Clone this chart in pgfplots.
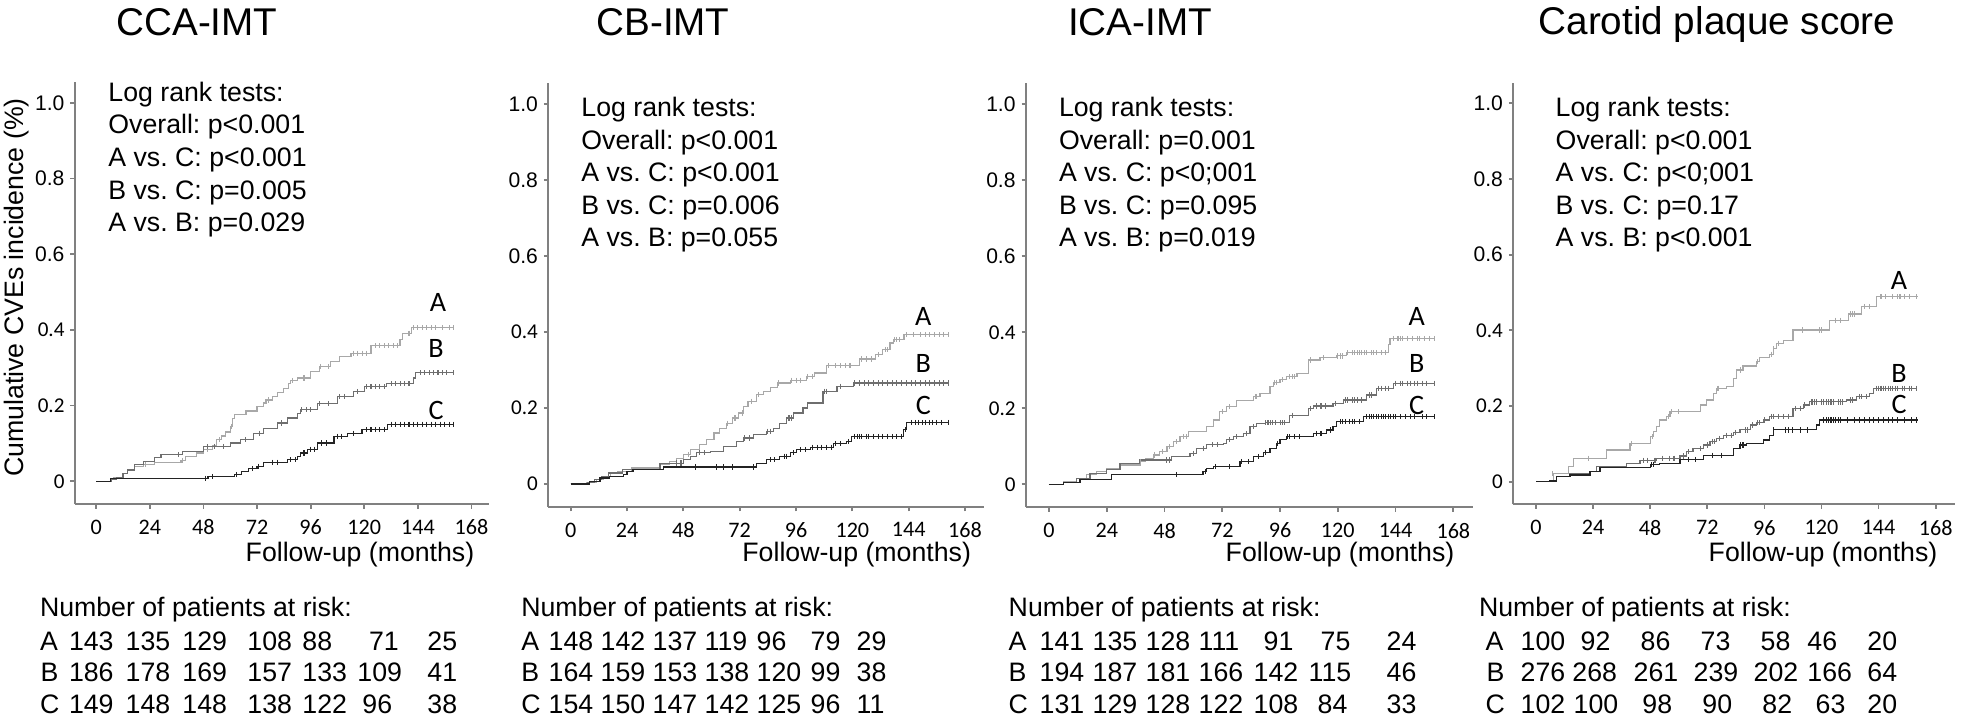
\documentclass[border=0pt]{standalone}
\usepackage{fontspec}
\setmainfont{Liberation Sans}
\newfontfamily\carlito{Carlito}
\usepackage{pgfplots}
\pgfplotsset{compat=1.18}

\definecolor{axgray}{RGB}{128,128,128}
\definecolor{colA}{RGB}{168,168,168}
\definecolor{colB}{RGB}{110,110,110}
\definecolor{colC}{RGB}{35,35,35}

\newcommand{\ttl}{\fontsize{11}{13}\selectfont}
\newcommand{\txt}{\fontsize{7.6}{9}\selectfont}

\pgfplotsset{
  km/.style={
    scale only axis, clip=false,
    axis x line=bottom, axis y line=left,
    axis line style={-, draw=axgray, line width=0.6pt},
    xmin=-9.5, xmax=176, ymin=-0.06, ymax=1.055,
    xtick={0,24,48,72,96,120,144,168},
    xticklabels={0,24,48,72,96,120,144,168},
    ytick={0,0.2,0.4,0.6,0.8,1},
    yticklabels={{\carlito 0},{\carlito 0.2},{\carlito 0.4},0.6,0.8,1.0},
    tick align=outside, major tick length=1.3pt,
    tick style={draw=axgray, line width=0.5pt},
    xticklabel style={font=\carlito\fontsize{6.3}{7}\selectfont, inner sep=0pt},
    yticklabel style={font=\fontsize{6}{7}\selectfont, inner sep=0pt},
    xticklabel shift=3pt, yticklabel shift=1.5pt,
  },
  stepA/.style={const plot, no marks, draw=colA, line width=0.35pt},
  stepB/.style={const plot, no marks, draw=colB, line width=0.35pt},
  stepC/.style={const plot, no marks, draw=colC, line width=0.35pt},
  cens/.style={only marks, mark=|, mark size=0.75pt, mark options={line width=0.3pt}},
  censA/.style={cens, colA},
  censB/.style={cens, colB},
  censC/.style={cens, colC},
}

\begin{document}
\frenchspacing
\begin{tikzpicture}

% ---------------- CCA-IMT
\begin{axis}[km, at={(7.5mm,-50.4mm)}, anchor=south west, width=41.44mm, height=42.2mm]
\addplot[stepA] coordinates {(0,0) (6.5,0.005) (8,0.01) (12,0.02) (14,0.03) (17,0.04) (21,0.045) (26,0.05) (38,0.055) (40,0.065) (45,0.075) (48,0.085) (52,0.095) (54,0.11) (56,0.12) (58,0.13) (60,0.145) (61,0.165) (62,0.176) (67,0.186) (72,0.197) (75,0.207) (76,0.215) (79,0.225) (81,0.235) (84,0.246) (86,0.258) (87,0.266) (90,0.273) (96,0.29) (100,0.303) (105,0.316) (109,0.33) (114,0.338) (123,0.358) (136,0.375) (137,0.391) (141,0.406) (160,0.406)};
\addplot[censA] coordinates {(22,0.045) (38.5,0.055) (50,0.085) (55,0.11) (60.5,0.145) (77,0.215) (88,0.266) (93,0.273) (100.5,0.303) (104,0.303) (115,0.338) (117,0.338) (119,0.338) (121,0.338) (125,0.358) (127,0.358) (129,0.358) (131,0.358) (133,0.358) (135,0.358) (140,0.391) (142,0.406) (144,0.406) (146,0.406) (148,0.406) (150,0.406) (152,0.406) (155,0.406) (158,0.406) (160,0.406)};
\addplot[stepB] coordinates {(0,0) (7,0.005) (9,0.01) (12,0.02) (14,0.03) (17,0.044) (21,0.053) (26,0.062) (29,0.07) (38.5,0.079) (48,0.092) (60,0.101) (64.5,0.11) (70.5,0.127) (75,0.14) (81,0.154) (85.5,0.167) (90,0.18) (91.5,0.189) (99,0.205) (108,0.224) (115,0.237) (120,0.25) (130,0.258) (142,0.273) (143,0.287) (160,0.287)};
\addplot[censB] coordinates {(37,0.07) (50,0.092) (53,0.092) (57,0.092) (67,0.11) (73,0.127) (83,0.154) (92,0.189) (94,0.189) (96,0.189) (100,0.205) (104,0.205) (109,0.224) (111,0.224) (117,0.237) (121,0.25) (123,0.25) (125,0.25) (127,0.25) (129,0.25) (132,0.258) (134,0.258) (136,0.258) (138,0.258) (140,0.258) (145,0.287) (147,0.287) (149,0.287) (151,0.287) (153,0.287) (155,0.287) (157,0.287) (160,0.287)};
\addplot[stepC] coordinates {(0,0) (6.5,0.008) (50,0.013) (62,0.018) (65,0.026) (68,0.033) (72,0.04) (75,0.05) (85.5,0.057) (90,0.066) (91.5,0.075) (94.5,0.085) (99,0.101) (106.4,0.119) (112.4,0.127) (119,0.136) (130.3,0.151) (160,0.151)};
\addplot[censC] coordinates {(49,0.008) (52,0.013) (63,0.018) (70,0.033) (72.5,0.04) (79,0.05) (81,0.05) (87,0.057) (89,0.057) (93,0.075) (96,0.085) (97.5,0.085) (101,0.101) (103,0.101) (108,0.119) (110,0.119) (115,0.127) (121,0.136) (123,0.136) (125,0.136) (127,0.136) (129,0.136) (132,0.151) (134,0.151) (136,0.151) (138,0.151) (140,0.151) (142,0.151) (144,0.151) (146,0.151) (148,0.151) (150,0.151) (152,0.151) (154,0.151) (156,0.151) (158,0.151) (160,0.151)};
\end{axis}

% ---------------- CB-IMT
\begin{axis}[km, at={(54.84mm,-50.68mm)}, anchor=south west, width=43.54mm, height=42.37mm]
\addplot[stepA] coordinates {(0,0) (6.8,0.004) (11,0.011) (14,0.02) (16.8,0.029) (20,0.033) (26,0.042) (38,0.051) (42,0.06) (45,0.068) (48,0.077) (51,0.09) (55,0.104) (58,0.117) (61,0.134) (63.5,0.147) (66.5,0.16) (69,0.174) (71.5,0.187) (73.5,0.204) (75.5,0.218) (79,0.235) (82,0.244) (85,0.253) (88,0.266) (93.5,0.273) (100.5,0.283) (104,0.292) (109,0.311) (123,0.329) (130,0.34) (133,0.354) (136,0.371) (137.5,0.38) (142,0.393) (161,0.393)};
\addplot[censA] coordinates {(50,0.077) (67,0.16) (70,0.174) (73,0.187) (77,0.218) (80,0.235) (88.5,0.266) (94,0.273) (96,0.273) (98,0.273) (101,0.283) (103,0.283) (110,0.311) (113,0.311) (115,0.311) (117,0.311) (119,0.311) (124,0.329) (126,0.329) (128,0.329) (131,0.34) (134,0.354) (135,0.354) (138,0.38) (139,0.38) (140,0.38) (143,0.393) (146,0.393) (149,0.393) (151,0.393) (153,0.393) (155,0.393) (157,0.393) (159,0.393) (161,0.393)};
\addplot[stepB] coordinates {(0,0) (7,0.005) (10,0.012) (13,0.02) (16,0.029) (22,0.038) (38,0.055) (48,0.064) (51,0.073) (53.5,0.082) (59.5,0.086) (65,0.099) (70.5,0.112) (73.5,0.121) (78,0.13) (83.5,0.139) (86.5,0.147) (89,0.16) (92,0.174) (95,0.187) (99,0.2) (101,0.213) (107.5,0.244) (113.5,0.257) (120.5,0.266) (161,0.266)};
\addplot[censB] coordinates {(45,0.055) (47,0.055) (55,0.082) (57,0.082) (74,0.121) (76,0.121) (84,0.139) (85,0.139) (93,0.174) (94,0.174) (108,0.244) (109,0.244) (115,0.257) (121,0.266) (123,0.266) (125,0.266) (127,0.266) (129,0.266) (131,0.266) (133,0.266) (135,0.266) (137,0.266) (139,0.266) (141,0.266) (143,0.266) (145,0.266) (147,0.266) (149,0.266) (151,0.266) (153,0.266) (155,0.266) (157,0.266) (159,0.266) (161,0.266)};
\addplot[stepC] coordinates {(0,0) (8,0.007) (12.5,0.016) (16.5,0.02) (22.5,0.026) (24,0.033) (26.5,0.038) (39.5,0.045) (79.3,0.055) (83.5,0.064) (89,0.073) (93.5,0.082) (96.3,0.09) (102,0.097) (112,0.106) (117.6,0.112) (119.7,0.125) (141.8,0.143) (143,0.162) (161,0.162)};
\addplot[censC] coordinates {(53,0.045) (62,0.045) (65,0.045) (69,0.045) (78,0.045) (85,0.064) (87,0.064) (91,0.073) (92,0.073) (95,0.082) (98,0.09) (100,0.09) (103,0.097) (105,0.097) (107,0.097) (109,0.097) (111,0.097) (113,0.106) (115,0.106) (118.5,0.112) (121,0.125) (122,0.125) (123,0.125) (124,0.125) (126,0.125) (127,0.125) (129,0.125) (131,0.125) (133,0.125) (135,0.125) (137,0.125) (139,0.125) (141,0.125) (142.5,0.143) (145,0.162) (147,0.162) (148,0.162) (150,0.162) (151,0.162) (153,0.162) (154,0.162) (156,0.162) (158,0.162) (161,0.162)};
\end{axis}

% ---------------- ICA-IMT
\begin{axis}[km, at={(102.61mm,-50.71mm)}, anchor=south west, width=44.65mm, height=42.37mm]
\addplot[stepA] coordinates {(0,0) (6,0.007) (11.5,0.016) (15.7,0.025) (19.8,0.033) (24,0.042) (29.5,0.051) (37.8,0.06) (40,0.068) (43.4,0.077) (46,0.086) (49,0.099) (51.7,0.112) (54.4,0.125) (58,0.139) (65.5,0.152) (68.3,0.169) (71,0.191) (73.8,0.204) (78,0.22) (85,0.231) (87.7,0.239) (91.8,0.257) (93.2,0.268) (96,0.275) (98.8,0.283) (103,0.292) (107.8,0.327) (112.6,0.334) (119.5,0.338) (123.7,0.346) (141,0.367) (141.7,0.384) (160.4,0.384)};
\addplot[censA] coordinates {(38,0.06) (44,0.077) (47,0.086) (50,0.099) (53,0.112) (56,0.125) (57,0.125) (72,0.191) (75,0.204) (86,0.231) (93.5,0.268) (94.5,0.268) (97,0.275) (100,0.283) (101,0.283) (102,0.283) (108.5,0.327) (114,0.334) (120,0.338) (121,0.338) (122,0.338) (124,0.346) (126,0.346) (127,0.346) (128,0.346) (129,0.346) (130,0.346) (131,0.346) (132,0.346) (134,0.346) (135,0.346) (136,0.346) (138,0.346) (140,0.346) (143,0.384) (145,0.384) (146,0.384) (147,0.384) (149,0.384) (151,0.384) (153,0.384) (154,0.384) (156,0.384) (158,0.384) (160,0.384)};
\addplot[stepB] coordinates {(0,0) (6,0.004) (11.5,0.016) (17,0.029) (24,0.04) (29.5,0.055) (37.8,0.064) (51,0.073) (58.6,0.082) (61.4,0.095) (65.5,0.104) (72.4,0.108) (73.8,0.117) (76.6,0.125) (80.7,0.134) (83.5,0.152) (86.3,0.161) (89.8,0.162) (100,0.182) (107.8,0.2) (110,0.206) (118,0.213) (122.3,0.222) (132,0.235) (136,0.253) (143,0.266) (160.4,0.266)};
\addplot[censB] coordinates {(49,0.064) (50,0.064) (60,0.082) (64,0.095) (68,0.104) (70,0.104) (75,0.117) (78,0.125) (82,0.134) (85,0.152) (90,0.162) (91,0.162) (92,0.162) (93,0.162) (94,0.162) (96,0.162) (97,0.162) (98,0.162) (101,0.182) (108.5,0.2) (111,0.206) (113,0.206) (115,0.206) (119,0.213) (123,0.222) (124,0.222) (126,0.222) (127,0.222) (128,0.222) (130,0.222) (133,0.235) (134,0.235) (137,0.253) (138,0.253) (140,0.253) (141,0.253) (144,0.266) (146,0.266) (147,0.266) (149,0.266) (150,0.266) (152,0.266) (153,0.266) (155,0.266) (157,0.266) (160,0.266)};
\addplot[stepC] coordinates {(0,0) (6,0.004) (12.9,0.013) (26,0.025) (64,0.033) (65.5,0.042) (68.3,0.046) (79.4,0.06) (85,0.073) (89,0.083) (91.8,0.095) (94.6,0.108) (96,0.117) (98.8,0.125) (110,0.134) (115.4,0.143) (118,0.152) (119.5,0.165) (130.6,0.178) (160.4,0.178)};
\addplot[censC] coordinates {(53,0.025) (65,0.033) (69,0.046) (75,0.046) (80,0.06) (83,0.06) (87,0.073) (90,0.083) (95,0.108) (99,0.125) (100,0.125) (102,0.125) (104,0.125) (111,0.134) (113,0.134) (117,0.143) (121,0.165) (122,0.165) (123,0.165) (125,0.165) (126,0.165) (127,0.165) (129,0.165) (132,0.178) (133,0.178) (134,0.178) (135,0.178) (136,0.178) (137,0.178) (138,0.178) (139,0.178) (140,0.178) (141,0.178) (142,0.178) (143,0.178) (144,0.178) (146,0.178) (148,0.178) (150,0.178) (152,0.178) (155,0.178) (157,0.178) (160,0.178)};
\end{axis}

% ---------------- Carotid plaque score
\begin{axis}[km, at={(151.34mm,-50.44mm)}, anchor=south west, width=44.13mm, height=42.19mm]
\addplot[stepA] coordinates {(0,0) (5.9,0.004) (7.3,0.022) (13.6,0.04) (15.7,0.062) (29.7,0.084) (39.5,0.101) (48,0.119) (49.3,0.132) (50.7,0.145) (52,0.163) (55,0.172) (56.3,0.185) (69,0.203) (71.7,0.216) (74.5,0.233) (76,0.247) (80,0.251) (83,0.273) (84.3,0.295) (87,0.306) (92.7,0.317) (94,0.329) (98.3,0.337) (99.7,0.352) (101,0.366) (104,0.374) (108,0.401) (123.5,0.427) (131.2,0.443) (136.8,0.463) (143,0.489) (160.6,0.489)};
\addplot[censA] coordinates {(7,0.022) (22,0.062) (40,0.101) (49,0.119) (55.5,0.172) (57,0.185) (60,0.185) (76.5,0.247) (86,0.295) (93,0.317) (99,0.337) (100,0.352) (102,0.366) (112,0.401) (119,0.401) (120,0.401) (126,0.427) (128,0.427) (132,0.443) (133,0.443) (134,0.443) (138,0.463) (140,0.463) (145,0.489) (147,0.489) (150,0.489) (152,0.489) (153,0.489) (155,0.489) (157,0.489) (160,0.489)};
\addplot[stepB] coordinates {(0,0) (5.9,0.003) (8.7,0.013) (14.3,0.022) (22.7,0.028) (25.5,0.04) (38,0.048) (43.7,0.057) (50.7,0.062) (60.5,0.068) (63.3,0.079) (66,0.088) (70.3,0.097) (73.1,0.106) (76,0.115) (78.7,0.123) (83,0.13) (85.7,0.137) (90,0.15) (92.7,0.156) (95.5,0.163) (98.3,0.172) (108,0.194) (112.3,0.203) (115,0.211) (130.5,0.216) (134.7,0.225) (140.3,0.233) (141.7,0.247) (160,0.247)};
\addplot[censB] coordinates {(45,0.057) (47,0.057) (50,0.057) (53,0.062) (56,0.062) (58,0.062) (62,0.068) (64,0.079) (69,0.088) (72,0.097) (74,0.106) (75,0.106) (77,0.115) (80,0.123) (82,0.123) (84,0.13) (88,0.137) (89,0.137) (91,0.15) (93,0.156) (94,0.156) (96,0.163) (99,0.172) (100,0.172) (102,0.172) (104,0.172) (106,0.172) (109,0.194) (111,0.194) (113,0.203) (116,0.211) (117,0.211) (118,0.211) (120,0.211) (121,0.211) (122,0.211) (123,0.211) (124,0.211) (125,0.211) (127,0.211) (128,0.211) (129,0.211) (132,0.216) (133,0.216) (136,0.225) (137,0.225) (139,0.225) (143,0.247) (144,0.247) (145,0.247) (146,0.247) (147,0.247) (148,0.247) (149,0.247) (150,0.247) (151,0.247) (152,0.247) (154,0.247) (155,0.247) (157,0.247) (158,0.247) (160,0.247)};
\addplot[stepC] coordinates {(0,0) (5.9,0.002) (8.7,0.013) (14.3,0.018) (22.7,0.026) (26.9,0.037) (48,0.046) (52,0.048) (60.5,0.059) (70.3,0.07) (83,0.088) (85.7,0.097) (88.5,0.101) (95.5,0.11) (98.3,0.123) (99.7,0.137) (118,0.15) (119.3,0.163) (160.6,0.163)};
\addplot[censC] coordinates {(48.5,0.046) (49.5,0.046) (64,0.059) (67,0.059) (74,0.07) (78,0.07) (86,0.097) (87,0.097) (100,0.137) (105,0.137) (106,0.137) (108,0.137) (111,0.137) (114,0.137) (121,0.163) (122,0.163) (123,0.163) (124,0.163) (125,0.163) (126,0.163) (127,0.163) (128,0.163) (131,0.163) (134,0.163) (136,0.163) (138,0.163) (140,0.163) (142,0.163) (144,0.163) (146,0.163) (148,0.163) (150,0.163) (152,0.163) (155,0.163) (158,0.163) (160,0.163)};
\end{axis}

% titles
\node[anchor=base, inner sep=0pt, font=\ttl] at (19.7mm,-3.5mm) {CCA-IMT};
\node[anchor=base, inner sep=0pt, font=\ttl] at (66.3mm,-3.5mm) {CB-IMT};
\node[anchor=base, inner sep=0pt, font=\ttl] at (114.0mm,-3.5mm) {ICA-IMT};
\node[anchor=base, inner sep=0pt, font=\ttl] at (171.7mm,-3.4mm) {Carotid plaque score};

% y label
\node[rotate=90, anchor=base, inner sep=0pt, font=\txt] at (2.4mm,-28.75mm) {Cumulative CVEs incidence (\%)};

% log rank tests
\begin{scope}[every node/.style={anchor=base west, inner sep=0pt, font=\txt}]
\node at (10.77mm,-10.17mm) {Log rank tests:};
\node at (10.77mm,-13.35mm) {Overall: p<0.001};
\node at (10.77mm,-16.67mm) {A vs. C: p<0.001};
\node at (10.77mm,-19.90mm) {B vs. C: p=0.005};
\node at (10.77mm,-23.17mm) {A vs. B: p=0.029};

\node at (58.07mm,-11.67mm) {Log rank tests:};
\node at (58.07mm,-14.93mm) {Overall: p<0.001};
\node at (58.07mm,-18.17mm) {A vs. C: p<0.001};
\node at (58.07mm,-21.40mm) {B vs. C: p=0.006};
\node at (58.07mm,-24.67mm) {A vs. B: p=0.055};

\node at (105.83mm,-11.67mm) {Log rank tests:};
\node at (105.83mm,-14.93mm) {Overall: p=0.001};
\node at (105.83mm,-18.17mm) {A vs. C: p<0;001};
\node at (105.83mm,-21.40mm) {B vs. C: p=0.095};
\node at (105.83mm,-24.67mm) {A vs. B: p=0.019};

\node at (155.5mm,-11.67mm) {Log rank tests:};
\node at (155.5mm,-14.93mm) {Overall: p<0.001};
\node at (155.5mm,-18.17mm) {A vs. C: p<0;001};
\node at (155.5mm,-21.40mm) {B vs. C: p=0.17};
\node at (155.5mm,-24.67mm) {A vs. B: p<0.001};
\end{scope}

% curve labels
\begin{scope}[every node/.style={inner sep=0pt, font=\carlito\fontsize{8}{9}\selectfont}]
\node at (43.8mm,-30.27mm) {A};
\node at (43.6mm,-34.8mm) {B};
\node at (43.6mm,-41.0mm) {C};
\node at (92.33mm,-31.67mm) {A};
\node at (92.33mm,-36.33mm) {B};
\node at (92.33mm,-40.57mm) {C};
\node at (141.67mm,-31.67mm) {A};
\node at (141.67mm,-36.33mm) {B};
\node at (141.67mm,-40.5mm) {C};
\node at (189.9mm,-28.0mm) {A};
\node at (189.9mm,-37.33mm) {B};
\node at (189.9mm,-40.4mm) {C};
\end{scope}

% x labels
\begin{scope}[every node/.style={anchor=base east, inner sep=0pt, font=\txt}]
\node at (47.5mm,-56.1mm) {Follow-up (months)};
\node at (97.17mm,-56.1mm) {Follow-up (months)};
\node at (145.5mm,-56.1mm) {Follow-up (months)};
\node at (193.8mm,-56.1mm) {Follow-up (months)};
\end{scope}

% risk tables
\begin{scope}[every node/.style={anchor=base west, inner sep=0pt, font=\txt}]
% CCA
\node at (3.93mm,-61.67mm) {Number of patients at risk:};
\node at (3.93mm,-65.0mm) {A}; \node at (6.83mm,-65.0mm) {143}; \node at (12.5mm,-65.0mm) {135}; \node at (18.17mm,-65.0mm) {129}; \node at (24.67mm,-65.0mm) {108}; \node at (30.17mm,-65.0mm) {88}; \node at (36.83mm,-65.0mm) {71}; \node at (42.67mm,-65.0mm) {25};
\node at (4.0mm,-68.17mm) {B}; \node at (6.83mm,-68.17mm) {186}; \node at (12.5mm,-68.17mm) {178}; \node at (18.17mm,-68.17mm) {169}; \node at (24.67mm,-68.17mm) {157}; \node at (30.17mm,-68.17mm) {133}; \node at (35.67mm,-68.17mm) {109}; \node at (42.67mm,-68.17mm) {41};
\node at (3.93mm,-71.33mm) {C}; \node at (6.83mm,-71.33mm) {149}; \node at (12.5mm,-71.33mm) {148}; \node at (18.17mm,-71.33mm) {148}; \node at (24.67mm,-71.33mm) {138}; \node at (30.17mm,-71.33mm) {122}; \node at (36.17mm,-71.33mm) {96}; \node at (42.67mm,-71.33mm) {38};
% CB
\node at (52.06mm,-61.67mm) {Number of patients at risk:};
\node at (52.06mm,-65.0mm) {A}; \node at (54.8mm,-65.0mm) {148}; \node at (60.0mm,-65.0mm) {142}; \node at (65.2mm,-65.0mm) {137}; \node at (70.4mm,-65.0mm) {119}; \node at (75.6mm,-65.0mm) {96}; \node at (81.0mm,-65.0mm) {79}; \node at (85.6mm,-65.0mm) {29};
\node at (52.06mm,-68.17mm) {B}; \node at (54.8mm,-68.17mm) {164}; \node at (60.0mm,-68.17mm) {159}; \node at (65.2mm,-68.17mm) {153}; \node at (70.4mm,-68.17mm) {138}; \node at (75.6mm,-68.17mm) {120}; \node at (81.0mm,-68.17mm) {99}; \node at (85.6mm,-68.17mm) {38};
\node at (52.06mm,-71.33mm) {C}; \node at (54.8mm,-71.33mm) {154}; \node at (60.0mm,-71.33mm) {150}; \node at (65.2mm,-71.33mm) {147}; \node at (70.4mm,-71.33mm) {142}; \node at (75.6mm,-71.33mm) {125}; \node at (81.0mm,-71.33mm) {96}; \node at (85.6mm,-71.33mm) {11};
% ICA
\node at (100.8mm,-61.67mm) {Number of patients at risk:};
\node at (100.8mm,-65.0mm) {A}; \node at (103.9mm,-65.0mm) {141}; \node at (109.2mm,-65.0mm) {135}; \node at (114.5mm,-65.0mm) {128}; \node at (119.8mm,-65.0mm) {111}; \node at (126.3mm,-65.0mm) {91}; \node at (132.0mm,-65.0mm) {75}; \node at (138.6mm,-65.0mm) {24};
\node at (100.8mm,-68.17mm) {B}; \node at (103.9mm,-68.17mm) {194}; \node at (109.2mm,-68.17mm) {187}; \node at (114.5mm,-68.17mm) {181}; \node at (119.8mm,-68.17mm) {166}; \node at (125.3mm,-68.17mm) {142}; \node at (130.8mm,-68.17mm) {115}; \node at (138.6mm,-68.17mm) {46};
\node at (100.8mm,-71.33mm) {C}; \node at (103.9mm,-71.33mm) {131}; \node at (109.2mm,-71.33mm) {129}; \node at (114.5mm,-71.33mm) {128}; \node at (119.8mm,-71.33mm) {122}; \node at (125.3mm,-71.33mm) {108}; \node at (131.7mm,-71.33mm) {84}; \node at (138.6mm,-71.33mm) {33};
% Carotid
\node at (147.83mm,-61.67mm) {Number of patients at risk:};
\node at (148.5mm,-65.0mm) {A}; \node at (152.0mm,-65.0mm) {100}; \node at (158.0mm,-65.0mm) {92}; \node at (164.0mm,-65.0mm) {86}; \node at (170.0mm,-65.0mm) {73}; \node at (176.0mm,-65.0mm) {58}; \node at (180.67mm,-65.0mm) {46}; \node at (186.67mm,-65.0mm) {20};
\node at (148.6mm,-68.17mm) {B}; \node at (152.0mm,-68.17mm) {276}; \node at (157.17mm,-68.17mm) {268}; \node at (163.3mm,-68.17mm) {261}; \node at (169.3mm,-68.17mm) {239}; \node at (175.3mm,-68.17mm) {202}; \node at (180.67mm,-68.17mm) {166}; \node at (186.67mm,-68.17mm) {64};
\node at (148.5mm,-71.33mm) {C}; \node at (152.0mm,-71.33mm) {102}; \node at (157.3mm,-71.33mm) {100}; \node at (164.17mm,-71.33mm) {98}; \node at (170.17mm,-71.33mm) {90}; \node at (176.17mm,-71.33mm) {82}; \node at (181.5mm,-71.33mm) {63}; \node at (186.67mm,-71.33mm) {20};
\end{scope}

\pgfresetboundingbox
\path[use as bounding box] (0,0) rectangle (196.1mm,-72.4mm);
\end{tikzpicture}
\end{document}
